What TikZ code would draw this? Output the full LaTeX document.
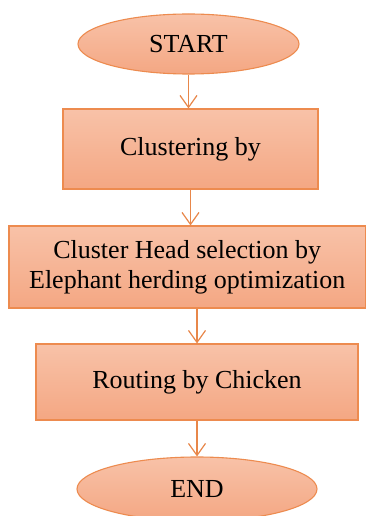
\documentclass[tikz,border=0pt]{standalone}
\usepackage{fontspec}
\setmainfont{Liberation Serif}
\usetikzlibrary{shapes.geometric,arrows.meta}
\definecolor{topc}{HTML}{F8C2A8}
\definecolor{botc}{HTML}{F4A783}
\definecolor{edgec}{HTML}{ED8B4F}
\definecolor{arrc}{HTML}{E8874A}
\tikzset{
  shade box/.style={draw=edgec, line width=1.1pt, top color=topc, bottom color=botc, inner sep=0pt, align=center, font=\fontsize{26}{30}\selectfont},
  procbox/.style={shade box, rectangle},
  termbox/.style={shade box, ellipse},
  arr/.style={draw=arrc, line width=1.2pt, -{Straight Barb[length=12pt,width=17pt,line width=1.2pt]}}
}
\begin{document}
\begin{tikzpicture}[x=1pt,y=-1pt]
\clip (0,0) rectangle (366,516);
\fill[white] (0,0) rectangle (366,516);
\node[termbox, minimum width=221pt, minimum height=60pt] (start) at (188.5,44) {START};
\node[procbox, minimum width=356.5pt, minimum height=82pt] (b2) at (187.25,267) {Cluster Head selection by\\Elephant herding optimization};
\node[procbox, minimum width=255pt, minimum height=80pt] (b1) at (190.5,149) {Clustering by};
\node[procbox, minimum width=322pt, minimum height=76pt] (b3) at (197,382) {Routing by Chicken};
\node[termbox, minimum width=240pt, minimum height=64pt] (end) at (197,489) {END};
\draw[arr] (start.south) -- (start.south |- b1.north);
\draw[arr] (b1.south) -- (b1.south |- b2.north);
\draw[arr] (b3.north |- b2.south) -- (b3.north);
\draw[arr] (b3.south) -- (end.north);
\end{tikzpicture}
\end{document}
